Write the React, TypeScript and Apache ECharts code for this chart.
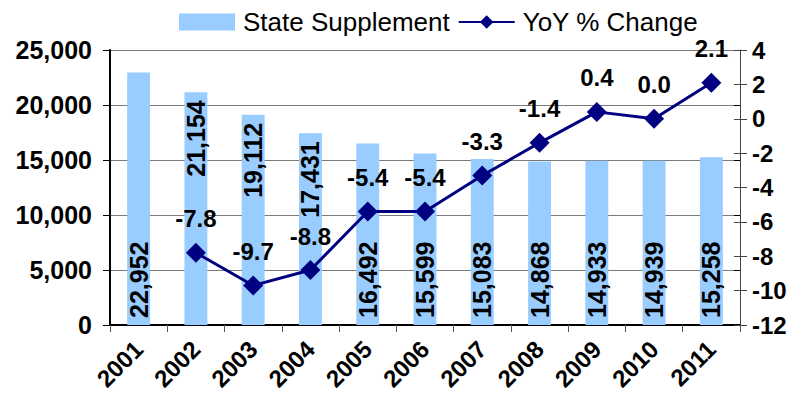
import React, { useEffect, useRef } from "react";
import * as echarts from "echarts";

const years = ["2001", "2002", "2003", "2004", "2005", "2006", "2007", "2008", "2009", "2010", "2011"];
const stateSupplement = [22952, 21154, 19112, 17431, 16492, 15599, 15083, 14868, 14933, 14939, 15258];
const yoyChange: (number | null)[] = [null, -7.8, -9.7, -8.8, -5.4, -5.4, -3.3, -1.4, 0.4, 0.0, 2.1];
const topLabelYears = ["2002", "2003", "2004"];

const FONT = "Liberation Sans, Arial, Helvetica, sans-serif";

export default function App() {
  const ref = useRef<HTMLDivElement>(null);
  useEffect(() => {
    document.body.style.margin = "0";
    if (!ref.current) return;
    const chart = echarts.init(ref.current, null, { renderer: "svg" });
    const barData = stateSupplement.map((v, i) => {
      const top = topLabelYears.includes(years[i]);
      return {
        value: v,
        label: top
          ? { position: "insideTop", distance: 8, align: "right", verticalAlign: "middle" }
          : { position: "insideBottom", distance: 7, align: "left", verticalAlign: "middle" },
      };
    });
    chart.setOption({
      animation: false,
      textStyle: { fontFamily: FONT },
      legend: {
        left: 174,
        top: 4,
        itemWidth: 56,
        itemHeight: 17,
        itemGap: 8,
        textStyle: { fontSize: 26, color: "#000", fontFamily: FONT, padding: [0, 0, 0, 3] },
        data: [
          { name: "State Supplement", icon: "rect" },
          { name: "YoY % Change" },
        ],
      },
      grid: { left: 110, right: 65, top: 50, bottom: 79 },
      xAxis: {
        type: "category",
        data: years,
        axisLine: { lineStyle: { color: "#000", width: 2 } },
        axisTick: { show: true, length: 7, lineStyle: { color: "#555", width: 1 } },
        axisLabel: {
          rotate: 45,
          fontSize: 24,
          fontWeight: "bold",
          color: "#000",
          margin: 20,
          interval: 0,
        },
      },
      yAxis: [
        {
          type: "value",
          min: 0,
          max: 25000,
          interval: 5000,
          axisLine: { show: true, lineStyle: { color: "#000", width: 2 } },
          axisTick: { show: true, length: 7, lineStyle: { color: "#000" } },
          splitLine: { show: true, lineStyle: { color: "#7a7a7a", width: 1 } },
          axisLabel: {
            fontSize: 25,
            fontWeight: "bold",
            color: "#000",
            margin: 18,
            formatter: (v: number) => v.toLocaleString("en-US"),
          },
        },
        {
          type: "value",
          min: -12,
          max: 4,
          interval: 2,
          position: "right",
          axisLine: { show: true, lineStyle: { color: "#444", width: 1 } },
          axisTick: { show: true, length: 7, lineStyle: { color: "#444" } },
          splitLine: { show: false },
          axisLabel: { fontSize: 24, fontWeight: "bold", color: "#000", margin: 12 },
        },
        {
          type: "value",
          min: 0,
          max: 25000,
          interval: 5000,
          axisLine: { show: false },
          axisTick: { show: true, inside: true, length: 6, lineStyle: { color: "#000" } },
          splitLine: { show: false },
          axisLabel: { show: false },
        },
        {
          type: "value",
          min: -12,
          max: 4,
          interval: 2,
          position: "right",
          axisLine: { show: false },
          axisTick: { show: true, inside: true, length: 6, lineStyle: { color: "#444" } },
          splitLine: { show: false },
          axisLabel: { show: false },
        },
      ],
      series: [
        {
          name: "State Supplement",
          type: "bar",
          yAxisIndex: 0,
          data: barData,
          barWidth: "40%",
          itemStyle: { color: "#99CCFF" },
          label: {
            show: true,
            rotate: 90,
            fontSize: 25,
            fontWeight: "bold",
            color: "#000",
            formatter: (p: any) => Number(p.value).toLocaleString("en-US"),
          },
        },
        {
          name: "YoY % Change",
          type: "line",
          yAxisIndex: 1,
          data: yoyChange,
          symbol: "diamond",
          symbolSize: 20,
          lineStyle: { color: "#000080", width: 3 },
          itemStyle: { color: "#000080" },
          label: {
            show: true,
            position: "top",
            distance: 12,
            fontSize: 24,
            fontWeight: "bold",
            color: "#000",
            formatter: (p: any) => Number(p.value).toFixed(1),
          },
        },
      ],
    });
    return () => chart.dispose();
  }, []);
  return <div ref={ref} style={{ width: 805, height: 404 }} />;
}
